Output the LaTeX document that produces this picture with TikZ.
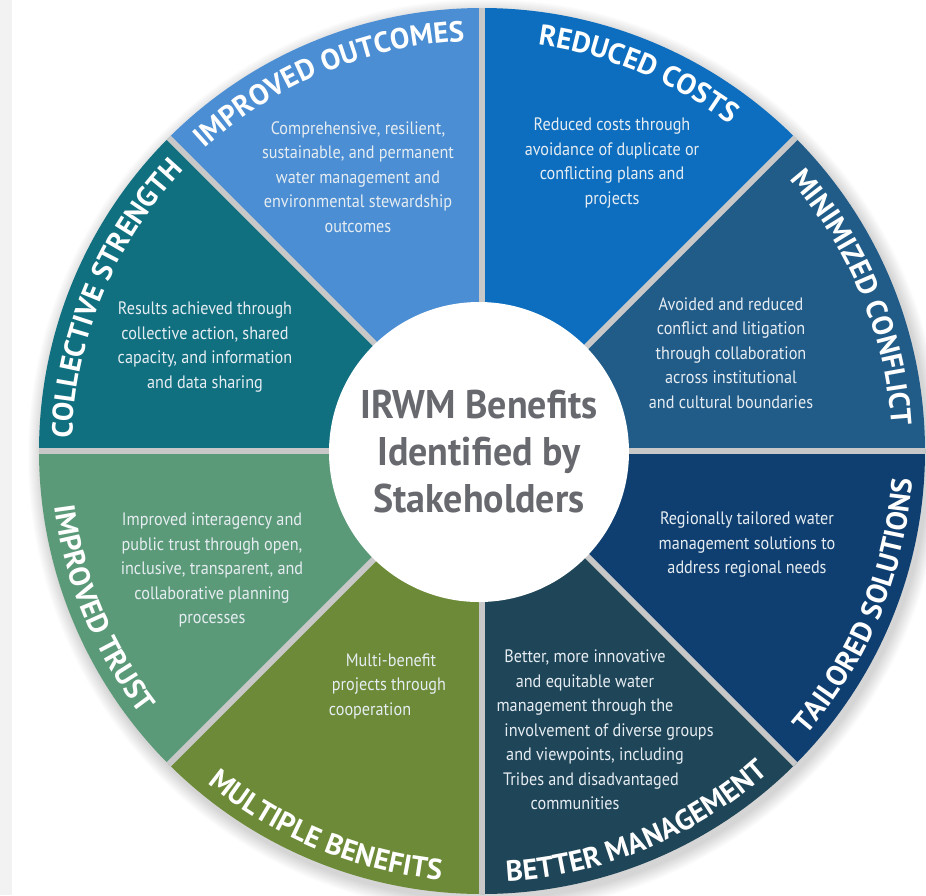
\documentclass[tikz,border=0pt]{standalone}
\usepackage{fontspec}
\usetikzlibrary{decorations.text,calc}
\newfontfamily\wsans{PT Sans}
\newfontfamily\wsanscond[FakeStretch=0.9]{PT Sans}
\newfontfamily\wsanscenter[FakeStretch=0.95]{PT Sans}
\newcommand\wtitlefont{\wsans\bfseries\fontsize{29}{29}\selectfont}
\definecolor{cOut}{HTML}{4B8ED3}
\definecolor{cCost}{HTML}{0D6EBF}
\definecolor{cConf}{HTML}{215B88}
\definecolor{cTail}{HTML}{0F3F70}
\definecolor{cMgmt}{HTML}{1F4558}
\definecolor{cMult}{HTML}{6C8A37}
\definecolor{cTrust}{HTML}{5B9A78}
\definecolor{cColl}{HTML}{107080}
\definecolor{gapgray}{HTML}{C8C8C8}
\definecolor{centergray}{HTML}{67696E}
\definecolor{bodytxt}{HTML}{E6EDF2}
\definecolor{stripgray}{HTML}{F2F2F2}
\begin{document}
\begin{tikzpicture}[x=1pt,y=1pt,
  bodytext/.style={text=bodytxt, align=center, inner sep=0pt,
    font=\wsanscond\fontsize{18}{24.5}\selectfont},
  gapline/.style={draw=gapgray, line width=6pt},
  toptitle/.style={decorate, decoration={text along path, text align=center,
    text color=white, text={|\wtitlefont|#1}}},
  bottitle/.style={decorate, decoration={text along path, text align=center,
    text color=white, text={|\wtitlefont|#1}}},
  hub/.style={circle, fill=white, minimum size=300pt, inner sep=0pt,
    text=centergray, align=center,
    font=\wsanscenter\bfseries\fontsize{40}{47}\selectfont}
]
\useasboundingbox (0,0) rectangle (926,-895);
\fill[white] (0,0) rectangle (926,-895);
\fill[stripgray] (0,0) rectangle (12,-895);
\coordinate (O) at (482,-451);
% soft shadow
\foreach \k in {1,...,14}
  \fill[black, opacity=0.013] ($(O)+(3,-5)$) circle[radius={(443+\k)*1pt}];
% sectors
\foreach \a/\c in {90/cOut, 45/cCost, 0/cConf, -45/cTail, -90/cMgmt, -135/cMult, -180/cTrust, 135/cColl}
  \fill[\c] (O) -- ++(\a:443pt) arc[start angle=\a, delta angle=45, radius=443pt] -- cycle;
% gaps
\foreach \a in {0,45,...,315}
  \draw[gapline] (O) -- ++(\a:443pt);
% hub
\node[hub] (hub) at (479,-452) {IRWM Benefits\\Identified by\\Stakeholders};
% titles (top: clockwise, bottom: counterclockwise)
\path[toptitle=IMPROVED OUTCOMES] ($(O)+(152.5:410pt)$) arc[start angle=152.5, end angle=72.5, radius=410pt];
\path[toptitle=REDUCED COSTS] ($(O)+(107.5:410pt)$) arc[start angle=107.5, end angle=27.5, radius=410pt];
\path[toptitle=MINIMIZED CONFLICT] ($(O)+(62.5:410pt)$) arc[start angle=62.5, end angle=-17.5, radius=410pt];
\path[toptitle=COLLECTIVE STRENGTH] ($(O)+(197.5:410pt)$) arc[start angle=197.5, end angle=117.5, radius=410pt];
\path[bottitle=TAILORED SOLUTIONS] ($(O)+(-62.5:431pt)$) arc[start angle=-62.5, end angle=17.5, radius=431pt];
\path[bottitle=BETTER MANAGEMENT] ($(O)+(-107.5:431pt)$) arc[start angle=-107.5, end angle=-27.5, radius=431pt];
\path[bottitle=MULTIPLE BENEFITS] ($(O)+(207.5:431pt)$) arc[start angle=207.5, end angle=287.5, radius=431pt];
\path[bottitle=IMPROVED TRUST] ($(O)+(162.5:431pt)$) arc[start angle=162.5, end angle=242.5, radius=431pt];
% body texts
\node[bodytext] (tOut) at (358,-177) {Comprehensive, resilient,\\sustainable, and permanent\\water management and\\environmental stewardship\\outcomes};
\node[bodytext] (tCost) at (612,-163) {Reduced costs through\\avoidance of duplicate or\\conflicting plans and\\projects};
\node[bodytext] (tConf) at (731,-353) {Avoided and reduced\\conflict and litigation\\through collaboration\\across institutional\\and cultural boundaries};
\node[bodytext] (tTail) at (747,-545) {Regionally tailored water\\management solutions to\\address regional needs};
\node[bodytext] (tMgmt) at (585,-730) {Better, more innovative\\and equitable water\\management through the\\\hspace*{48pt}involvement of diverse groups\\\hspace*{20pt}and viewpoints, including\\\hspace*{12pt}Tribes and disadvantaged\\communities\hspace*{20pt}};
\node[bodytext] (tMult) at (385,-686) {\hspace*{12pt}Multi-benefit\\\hspace*{8pt}projects through\\cooperation\hspace*{30pt}};
\node[bodytext] (tTrust) at (212,-570) {Improved interagency and\\public trust through open,\\inclusive, transparent, and\\collaborative planning\\processes};
\node[bodytext] (tColl) at (205,-347) {Results achieved through\\collective action, shared\\capacity, and information\\and data sharing};
\end{tikzpicture}
\end{document}
